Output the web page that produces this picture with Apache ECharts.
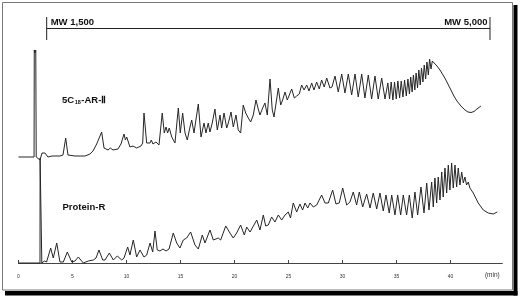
<!DOCTYPE html>
<html><head><meta charset="utf-8">
<script src="https://cdn.jsdelivr.net/npm/echarts@6/dist/echarts.min.js"></script>
<style>html,body{margin:0;padding:0;background:#fff}#c{width:520px;height:297px}</style>
</head><body><div id="c"></div>
<script>
// time axis (min)
const timeTicks = [0, 5, 10, 15, 20, 25, 30, 35, 40];
const timeUnit = '(min)';
const traceNames = ['5C18-AR-Ⅱ', 'Protein-R'];
// MW calibration marks: [time (min), label]
const mwMarkers = [[2.61, 'MW 1,500'], [43.66, 'MW 5,000']];

// 5C18-AR-II trace: [time (min), response (a.u.)]
const traceTop = [
 [0,0],[1.44,0],[1.46,107],[1.52,104],[1.60,107],[1.64,0],[1.99,-3],[2.18,4],[2.32,2],[2.45,4],[2.73,0],
 [3.10,1],[3.84,1],[4.12,2],[4.37,19],[4.58,2],[5.23,1],[6.16,1],[6.62,3],[6.90,6],[7.24,13],
 [7.36,11],[7.70,25],[7.92,9],[8.10,10],[8.29,7],[8.50,9],[8.75,7],[9.21,8],[9.49,13],[9.77,23],
 [9.90,17],[10.02,20],[10.32,10],[10.60,11],[10.94,9],[11.34,11],[11.50,14],[11.62,44],[11.87,14],[12.05,16],
 [12.18,14],[12.30,17],[12.45,13],[12.73,15],[13.01,12],[13.31,44],[13.50,24],[13.66,30],[13.81,24],[13.96,29],
 [14.19,20],[14.49,14],[14.80,49],[14.98,24],[15.20,44],[15.42,24],[15.63,17],[15.88,30],[16.04,37],[16.25,24],
 [16.65,53],[16.90,20],[17.18,34],[17.36,24],[17.57,34],[17.73,25],[17.94,34],[18.19,48],[18.41,27],[18.66,42],
 [18.81,29],[19.03,44],[19.28,29],[19.43,34],[19.68,45],[19.89,30],[20.14,42],[20.35,27],[20.57,24],[20.81,52],
 [21.04,44],[21.28,39],[21.50,35],[21.74,42],[21.99,57],[22.20,48],[22.36,42],[22.61,49],[22.82,54],[23.04,42],
 [23.29,78],[23.50,47],[23.66,40],[24.06,69],[24.28,52],[24.46,57],[24.68,65],[24.89,57],[25.05,55],[25.30,68],
 [25.54,59],[25.76,61],[26.00,63],[26.22,72],[26.44,67],[26.69,72],[26.90,66],[27.15,74],[27.36,67],[27.61,75],
 [27.85,68],[28.07,77],[28.31,70],[28.54,79],[28.84,69],[29.03,70],[29.31,81],[29.61,65],[29.93,83],[30.23,64],
 [30.54,83],[30.85,62],[31.16,83],[31.46,60],[31.78,83],[32.08,59],[32.39,82],[32.70,58],[33.01,81],[33.31,58],
 [33.63,79],[33.94,58],[34.20,74],[34.36,58],[34.51,75],[34.67,57],[34.82,75],[34.98,58],[35.13,76],[35.29,59],
 [35.44,76],[35.60,60],[35.75,77],[35.91,61],[36.06,78],[36.20,63],[36.32,80],[36.45,65],[36.57,82],[36.70,67],
 [36.82,84],[36.95,69],[37.07,87],[37.20,72],[37.32,89],[37.45,75],[37.57,92],[37.70,78],[37.82,95],[37.95,82],
 [38.07,98],[38.20,88],[38.32,96],[38.47,95],[38.75,91],[39.03,87],[39.31,82],[39.58,77],[39.95,69],[40.32,61],
 [40.60,56],[40.97,51],[41.34,47],[41.62,45],[41.90,44.5],[42.18,45.5],[42.45,48],[42.82,51]
];

// Protein-R trace: [time (min), response (a.u.)]
const traceBottom = [
 [0,0],[1.99,0],[2.00,105],[2.14,105],[2.16,0],[2.40,2],[2.60,1],[2.73,3],[2.98,15],[3.22,5],
 [3.54,20],[3.84,1],[4.15,1],[4.52,11],[4.93,1],[5.23,2],[5.54,6],[6.00,0],[6.46,2],[6.93,3],
 [7.18,5],[7.45,13],[7.80,3],[8.01,3],[8.41,10],[8.78,3],[9.15,7],[9.56,3],[9.77,5],[10.11,16],
 [10.32,8],[10.63,23],[10.94,6],[11.25,13],[11.62,6],[11.87,8],[12.18,20],[12.43,11],[12.64,32],[12.85,13],
 [13.10,12],[13.38,14],[13.66,12],[13.94,14],[14.33,30],[14.65,20],[14.95,15],[15.26,23],[15.57,25],[15.94,31],
 [16.34,18],[16.65,14],[17.02,28],[17.27,20],[17.73,33],[18.04,23],[18.50,25],[18.72,23],[19.19,37],[19.58,30],
 [19.89,25],[20.20,30],[20.57,38],[20.91,28],[21.13,36],[21.44,31],[22.06,43],[22.36,33],[22.67,48],[22.89,37],
 [23.13,38],[23.44,46],[23.75,41],[24.06,48],[24.37,43],[24.68,48],[24.98,51],[25.19,45],[25.44,60],[25.76,51],
 [26.06,59],[26.31,53],[26.53,60],[26.78,55],[26.99,60],[27.30,56],[27.61,58],[28.07,68],[28.38,60],[28.69,60],
 [29.09,73],[29.40,59],[29.70,60],[30.02,75],[30.39,58],[30.69,61],[31.00,71],[31.31,58],[31.56,71],[31.87,56],
 [32.24,69],[32.55,55],[32.85,70],[33.17,54],[33.47,70],[33.78,52],[34.03,68],[34.33,50],[34.56,68],[34.86,48],
 [35.11,68],[35.39,48],[35.63,68],[35.94,48],[36.19,68],[36.46,45],[36.71,71],[36.96,48],[37.27,76],[37.55,50],
 [37.80,80],[38.01,53],[38.26,81],[38.41,56],[38.56,85],[38.72,60],[38.87,86],[39.03,63],[39.19,91],[39.33,66],
 [39.49,95],[39.65,70],[39.80,98],[39.95,73],[40.11,100],[40.26,75],[40.42,98],[40.57,76],[40.72,95],[40.88,78],
 [41.04,91],[41.19,80],[41.34,86],[41.49,78],[41.65,81],[41.80,75],[42.11,70],[42.57,60],[43.04,53],[43.50,50],
 [43.96,49],[44.33,51]
];

const chart = echarts.init(document.getElementById('c'), null, {renderer: 'canvas'});
const lineColor = '#262626';
const xCommon = {type: 'value', min: 0, max: 44.8};
chart.setOption({
  animation: false,
  backgroundColor: '#fff',
  grid: [
    {left: 18.5, right: 17.7, top: 47, height: 120},
    {left: 18.5, right: 17.7, top: 152, bottom: 25}
  ],
  xAxis: [
    Object.assign({gridIndex: 0, show: false}, xCommon),
    Object.assign({gridIndex: 1, position: 'bottom',
      axisLine: {show: true, lineStyle: {color: '#444', width: 1}},
      axisTick: {show: true, inside: true, length: 3, customValues: timeTicks, lineStyle: {color: '#444'}},
      axisLabel: {show: true, customValues: timeTicks, margin: 2, fontSize: 5, color: '#333', fontFamily: 'Liberation Sans'},
      splitLine: {show: false}}, xCommon)
  ],
  yAxis: [
    {gridIndex: 0, type: 'value', min: -10, max: 110, show: false},
    {gridIndex: 1, type: 'value', min: -9, max: 111, show: false}
  ],
  series: [
    {type: 'line', name: traceNames[0], xAxisIndex: 0, yAxisIndex: 0, data: traceTop, showSymbol: false,
     lineStyle: {color: lineColor, width: 1}, clip: false},
    {type: 'line', name: traceNames[1], xAxisIndex: 1, yAxisIndex: 1, data: traceBottom, showSymbol: false,
     lineStyle: {color: lineColor, width: 1}, clip: false}
  ]
});

const px = t => chart.convertToPixel({xAxisIndex: 1}, t);
const x1 = px(mwMarkers[0][0]), x2 = px(mwMarkers[1][0]);
const xEnd = px(44.8);
const labelFont = {fontFamily: 'Liberation Sans, Arial, sans-serif', fontWeight: 'bold', fontSize: 9.5, fill: '#111'};
const sub = traceNames[0].match(/^(\d?C)(\d+)(.*)$/);
chart.setOption({
  graphic: [
    // frame + shadow
    {type: 'rect', shape: {x: 5, y: 291, width: 512.5, height: 4.5}, style: {fill: '#000'}, silent: true},
    {type: 'rect', shape: {x: 513.5, y: 5, width: 4, height: 290.5}, style: {fill: '#000'}, silent: true},
    {type: 'rect', shape: {x: 2.5, y: 2.5, width: 510, height: 287.5}, style: {fill: 'none', stroke: '#777', lineWidth: 1}, silent: true},
    // MW bracket
    {type: 'line', shape: {x1: x1, y1: 28.5, x2: x2, y2: 28.5}, style: {stroke: '#222', lineWidth: 1}},
    {type: 'line', shape: {x1: x1, y1: 17, x2: x1, y2: 40}, style: {stroke: '#222', lineWidth: 1}},
    {type: 'line', shape: {x1: x2, y1: 17, x2: x2, y2: 40}, style: {stroke: '#222', lineWidth: 1}},
    {type: 'text', x: x1 + 4, y: 22.5, style: Object.assign({text: mwMarkers[0][1], verticalAlign: 'middle', align: 'left'}, labelFont)},
    {type: 'text', x: x2 - 2.5, y: 22.5, style: Object.assign({text: mwMarkers[1][1], verticalAlign: 'middle', align: 'right'}, labelFont)},
    // trace labels
    {type: 'text', x: 62, y: 100, style: {
      text: '{a|' + sub[1] + '}{s|' + sub[2] + '}{a|' + sub[3] + '}',
      verticalAlign: 'middle', align: 'left',
      rich: {
        a: {fontFamily: 'Liberation Sans, Arial, sans-serif', fontWeight: 'bold', fontSize: 9.5, fill: '#111', verticalAlign: 'bottom'},
        s: {fontFamily: 'Liberation Sans, Arial, sans-serif', fontWeight: 'bold', fontSize: 5.5, fill: '#111', verticalAlign: 'bottom', padding: [0, 0.5, 0, 0.5]}
      }}},
    {type: 'text', x: 62.5, y: 207, style: Object.assign({text: traceNames[1], verticalAlign: 'middle', align: 'left'}, labelFont)},
    // unit label
    {type: 'text', x: xEnd - 10, y: 275, style: {text: timeUnit, align: 'center', verticalAlign: 'middle', fontSize: 6.5, fill: '#333', fontFamily: 'Liberation Sans, Arial, sans-serif'}}
  ]
});
</script></body></html>
